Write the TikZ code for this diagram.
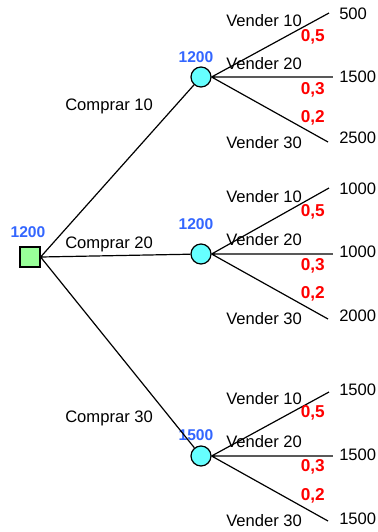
\documentclass[tikz,border=0pt]{standalone}
\usepackage{fontspec}
\setmainfont{Liberation Sans}
\usetikzlibrary{positioning}
\definecolor{decgreen}{RGB}{153,255,153}
\definecolor{chancecyan}{RGB}{102,255,255}
\definecolor{valblue}{RGB}{51,102,255}

\begin{document}
\begin{tikzpicture}[x=0.5pt,y=-0.5pt,line width=0.6pt,font=\fontsize{8.3}{10}\selectfont]
  \tikzstyle{decision}=[draw,rectangle,fill=decgreen,minimum size=10pt,inner sep=0pt]
  \tikzstyle{chance}=[draw,circle,fill=chancecyan,minimum size=10pt,inner sep=0pt]
  \tikzstyle{value}=[text=valblue,font=\fontsize{7.8}{9}\selectfont\bfseries]
  \tikzstyle{prob}=[text=red,anchor=east,font=\fontsize{8.6}{10}\selectfont\bfseries]
  \tikzstyle{act}=[anchor=west]
  \tikzstyle{payoff}=[anchor=west]

  \useasboundingbox (0,0) rectangle (377,532);

  \node[decision] (buy) at (30,257) {};
  \node[chance] (sell1) at (201,77) {};
  \node[chance] (sell2) at (201,254) {};
  \node[chance] (sell3) at (201,456) {};

  \node[value] at (28,232) {1200};
  \node[value] at (196,57) {1200};
  \node[value] at (196,224) {1200};
  \node[value] at (196,435) {1500};

  % comprar
  \path[draw] (buy.east) -- (sell1) (buy.east) -- (sell2) (buy.east) -- (sell3);
  \node[act] at (58,106) {Comprar 10};
  \node[act] at (58,244) {Comprar 20};
  \node[act] at (58,418) {Comprar 30};

  % vender, compra 10
  \coordinate (e11) at (329,13);
  \coordinate (e12) at (333,77);
  \coordinate (e13) at (328,142);
  \path[draw] (sell1.east) -- (e11) (sell1.east) -- (e12) (sell1.east) -- (e13);
  \node[payoff] at (332,14) {500};
  \node[payoff] at (332,77) {1500};
  \node[payoff] at (332,138) {2500};
  \node[act] at (219,21) {Vender 10};
  \node[act] at (219,64) {Vender 20};
  \node[act] at (219,143) {Vender 30};
  \node[prob] at (332,37) {0,5};
  \node[prob] at (332,90) {0,3};
  \node[prob] at (332,118) {0,2};

  % vender, compra 20
  \coordinate (e21) at (329,188);
  \coordinate (e22) at (333,254);
  \coordinate (e23) at (328,319);
  \path[draw] (sell2.east) -- (e21) (sell2.east) -- (e22) (sell2.east) -- (e23);
  \node[payoff] at (332,189) {1000};
  \node[payoff] at (332,252) {1000};
  \node[payoff] at (332,316) {2000};
  \node[act] at (219,197) {Vender 10};
  \node[act] at (219,240) {Vender 20};
  \node[act] at (219,319) {Vender 30};
  \node[prob] at (332,212) {0,5};
  \node[prob] at (332,266) {0,3};
  \node[prob] at (332,294) {0,2};

  % vender, compra 30
  \coordinate (e31) at (329,392);
  \coordinate (e32) at (333,456);
  \coordinate (e33) at (328,521);
  \path[draw] (sell3.east) -- (e31) (sell3.east) -- (e32) (sell3.east) -- (e33);
  \node[payoff] at (332,390) {1500};
  \node[payoff] at (332,455) {1500};
  \node[payoff] at (332,519) {1500};
  \node[act] at (219,399) {Vender 10};
  \node[act] at (219,442) {Vender 20};
  \node[act] at (219,521) {Vender 30};
  \node[prob] at (332,413) {0,5};
  \node[prob] at (332,467) {0,3};
  \node[prob] at (332,496) {0,2};
\end{tikzpicture}
\end{document}
